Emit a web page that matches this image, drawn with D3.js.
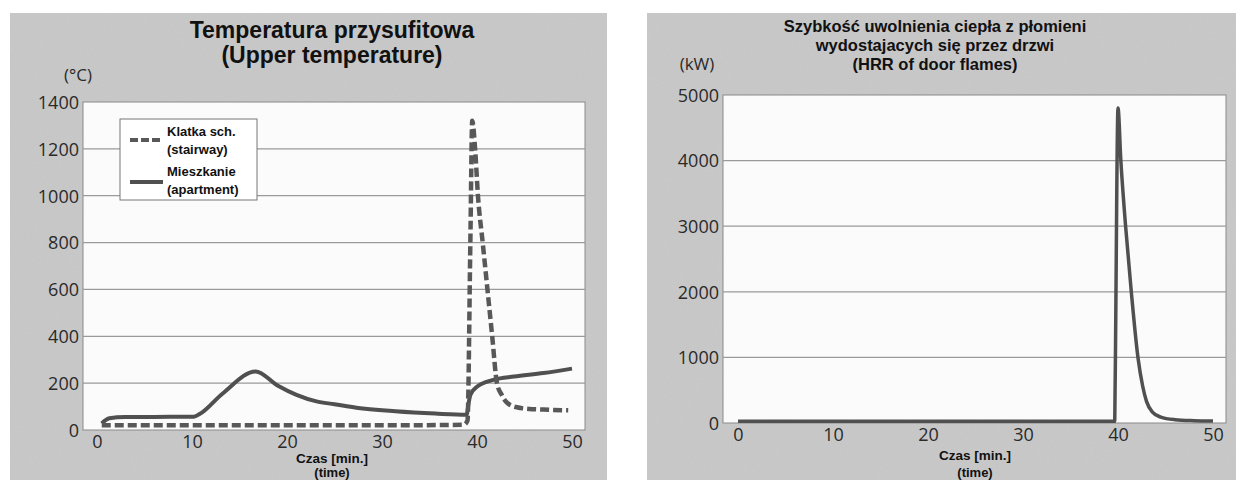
<!DOCTYPE html>
<html>
<head>
<meta charset="utf-8">
<script src="https://cdn.jsdelivr.net/npm/d3@7"></script>
<style>
  body { margin: 0; background: #fff; }
  svg { display: block; }
  .tick text { font-family: "Open Sans", sans-serif; font-size: 18px; fill: #2a2a2a; }
  .title { font-family: "Liberation Sans", Arial, sans-serif; font-weight: bold; fill: #111; }
</style>
</head>
<body>
<script>
// ---- data ----
var timeTicks = [0, 10, 20, 30, 40, 50];
var tempTicks = [0, 200, 400, 600, 800, 1000, 1200, 1400];
var hrrTicks = [0, 1000, 2000, 3000, 4000, 5000];

// stairway (dashed)
var stairT = [0.5, 10, 20, 30, 38.6, 39.0, 39.3, 39.5, 39.8, 40.1, 40.6, 41.1, 41.6, 42.1, 42.6, 43.2, 44.2, 45.5, 47, 49.6];
var stairV = [20, 20, 20, 20, 22, 40, 800, 1320, 1200, 1000, 800, 600, 400, 200, 150, 115, 97, 90, 87, 84];

// apartment (solid)
var aptT = [0.5, 1.3, 3, 6, 10.2, 10.8, 13.2, 16.7, 19, 21, 23.1, 25, 27.3, 31.4, 35.6, 38.9, 39.1, 39.3, 40.1, 41, 41.8, 43.9, 47, 50];
var aptV = [28, 50, 55, 56, 57, 68, 155, 250, 190, 150, 122, 110, 95, 80, 70, 65, 110, 150, 188, 205, 215, 228, 243, 262];

// HRR of door flames
var hrrT = [0, 10, 20, 30, 39.65, 39.7, 40.0, 40.3, 40.8, 41.4, 42.1, 42.6, 43.0, 43.6, 44.5, 46, 48, 50];
var hrrV = [25, 25, 25, 25, 25, 600, 4800, 4000, 3000, 2000, 1000, 560, 330, 170, 90, 50, 35, 30];

var W = 1236, H = 480;
var svg = d3.select("body").append("svg").attr("width", W).attr("height", H);

// grainy grey paper background
var defs = svg.append("defs");
var f = defs.append("filter").attr("id", "grain").attr("x", 0).attr("y", 0).attr("width", "100%").attr("height", "100%");
f.append("feTurbulence").attr("type", "fractalNoise").attr("baseFrequency", 0.9).attr("numOctaves", 2).attr("seed", 3).attr("result", "n");
f.append("feColorMatrix").attr("type", "matrix")
  .attr("values", "0 0 0 0 0.45  0 0 0 0 0.45  0 0 0 0 0.45  0 0 0 -0.9 0.55");

function panel(x0, x1) {
  svg.append("rect").attr("x", x0).attr("y", 13).attr("width", x1 - x0).attr("height", H - 13).attr("fill", "#c8c8c8");
  svg.append("rect").attr("x", x0).attr("y", 13).attr("width", x1 - x0).attr("height", H - 13)
    .attr("filter", "url(#grain)").attr("opacity", 0.35);
}
panel(10, 607);
panel(647, 1236);

function drawChart(o) {
  var g = svg.append("g");
  g.append("rect").attr("x", o.px0).attr("y", o.py0).attr("width", o.px1 - o.px0).attr("height", o.py1 - o.py0)
    .attr("fill", "#fbfbfb").attr("stroke", "#8a8a8a").attr("stroke-width", 1);

  // gridlines
  g.selectAll(".grid").data(o.yTicks.filter(function (d) { return d > 0 && d < o.yScale.domain()[1]; }))
    .enter().append("line")
    .attr("x1", o.px0).attr("x2", o.px1)
    .attr("y1", function (d) { return o.yScale(d); }).attr("y2", function (d) { return o.yScale(d); })
    .attr("stroke", "#9a9a9a").attr("stroke-width", 1.2);

  var xa = g.append("g").attr("transform", "translate(0," + o.py1 + ")")
    .call(d3.axisBottom(o.xScale).tickValues(timeTicks).tickFormat(d3.format("d")).tickSize(0).tickPadding(5));
  xa.select(".domain").remove();

  var ya = g.append("g").attr("transform", "translate(" + o.px0 + ",0)")
    .call(d3.axisLeft(o.yScale).tickValues(o.yTicks).tickFormat(d3.format("d")).tickSize(0).tickPadding(4));
  ya.select(".domain").remove();
  ya.selectAll(".tick text").attr("dy", "0.35em");
  return g;
}

// ---- left chart ----
var xL = d3.scaleLinear().domain([0, 50]).range([97, 572]);
var yL = d3.scaleLinear().domain([0, 1400]).range([430, 102]);
var gL = drawChart({ px0: 83, px1: 585, py0: 102, py1: 430, xScale: xL, yScale: yL, yTicks: tempTicks });

var lineL = d3.line().x(function (d) { return xL(d[0]); }).y(function (d) { return yL(d[1]); }).curve(d3.curveMonotoneX);

gL.append("path").datum(d3.zip(aptT, aptV)).attr("d", lineL)
  .attr("fill", "none").attr("stroke", "#505050").attr("stroke-width", 4).attr("stroke-linejoin", "round");
gL.append("path").datum(d3.zip(stairT, stairV)).attr("d", lineL)
  .attr("fill", "none").attr("stroke", "#585858").attr("stroke-width", 4.5).attr("stroke-dasharray", "9,4");

// legend
gL.append("rect").attr("x", 120).attr("y", 119).attr("width", 137).attr("height", 81)
  .attr("fill", "#fff").attr("stroke", "#777").attr("stroke-width", 1);
gL.append("line").attr("x1", 130).attr("x2", 163).attr("y1", 140).attr("y2", 140)
  .attr("stroke", "#585858").attr("stroke-width", 4).attr("stroke-dasharray", "8,3");
gL.append("line").attr("x1", 130).attr("x2", 163).attr("y1", 182).attr("y2", 182)
  .attr("stroke", "#505050").attr("stroke-width", 4);
var legTxt = [["Klatka sch.", 136], ["(stairway)", 154], ["Mieszkanie", 176], ["(apartment)", 194]];
gL.selectAll(".lt").data(legTxt).enter().append("text").attr("class", "title")
  .attr("x", 167).attr("y", function (d) { return d[1]; }).attr("font-size", 13)
  .text(function (d) { return d[0]; });

svg.append("text").attr("class", "title").attr("x", 332).attr("y", 38).attr("text-anchor", "middle")
  .attr("font-size", 23).text("Temperatura przysufitowa");
svg.append("text").attr("class", "title").attr("x", 332).attr("y", 63).attr("text-anchor", "middle")
  .attr("font-size", 23).text("(Upper temperature)");
svg.append("text").attr("x", 78).attr("y", 81).attr("text-anchor", "middle")
  .style("font-family", "Open Sans, sans-serif").attr("font-size", 17).attr("fill", "#2a2a2a").text("(°C)");
svg.append("text").attr("class", "title").attr("x", 332).attr("y", 463).attr("text-anchor", "middle")
  .attr("font-size", 13.5).text("Czas [min.]");
svg.append("text").attr("class", "title").attr("x", 332).attr("y", 477).attr("text-anchor", "middle")
  .attr("font-size", 13).text("(time)");

// ---- right chart ----
var xR = d3.scaleLinear().domain([0, 50]).range([738, 1213]);
var yR = d3.scaleLinear().domain([0, 5000]).range([423, 95]);
var gR = drawChart({ px0: 723, px1: 1226, py0: 95, py1: 423, xScale: xR, yScale: yR, yTicks: hrrTicks });

var lineR = d3.line().x(function (d) { return xR(d[0]); }).y(function (d) { return yR(d[1]); }).curve(d3.curveMonotoneX);
gR.append("path").datum(d3.zip(hrrT, hrrV)).attr("d", lineR)
  .attr("fill", "none").attr("stroke", "#505050").attr("stroke-width", 3.5).attr("stroke-linejoin", "round");

svg.append("text").attr("class", "title").attr("x", 935).attr("y", 32).attr("text-anchor", "middle")
  .attr("font-size", 16.5).text("Szybkość uwolnienia ciepła z płomieni");
svg.append("text").attr("class", "title").attr("x", 935).attr("y", 51).attr("text-anchor", "middle")
  .attr("font-size", 16.5).text("wydostajacych się przez drzwi");
svg.append("text").attr("class", "title").attr("x", 935).attr("y", 70).attr("text-anchor", "middle")
  .attr("font-size", 16.5).text("(HRR of door flames)");
svg.append("text").attr("x", 697).attr("y", 70).attr("text-anchor", "middle")
  .style("font-family", "Open Sans, sans-serif").attr("font-size", 17).attr("fill", "#2a2a2a").text("(kW)");
svg.append("text").attr("class", "title").attr("x", 975).attr("y", 460).attr("text-anchor", "middle")
  .attr("font-size", 13.5).text("Czas [min.]");
svg.append("text").attr("class", "title").attr("x", 975).attr("y", 477).attr("text-anchor", "middle")
  .attr("font-size", 13).text("(time)");
</script>
</body>
</html>
